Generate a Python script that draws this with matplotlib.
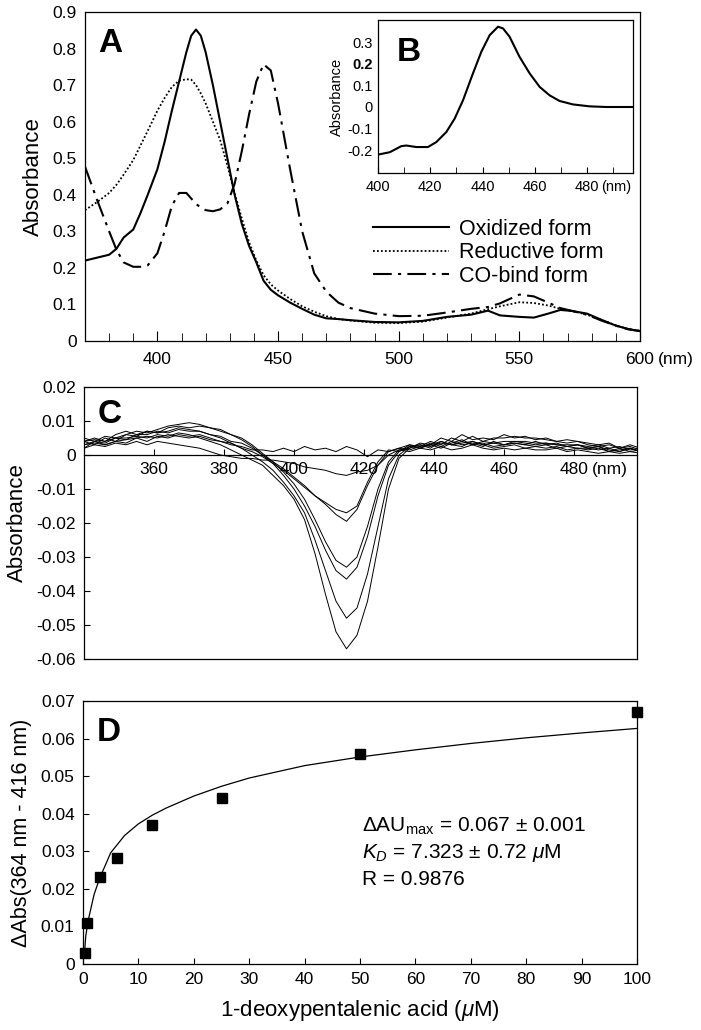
import matplotlib
matplotlib.use('Agg')

import matplotlib.pyplot as plt
import numpy as np

plt.rcParams['font.family'] = ['Liberation Sans', 'DejaVu Sans']
plt.rcParams['mathtext.fontset'] = 'custom'
plt.rcParams['mathtext.rm'] = 'Liberation Sans'
plt.rcParams['mathtext.it'] = 'Liberation Sans:italic'

# ---- panel A : spectra ----
wl_a = [370, 375, 380, 383, 386, 390, 393, 396, 400, 403, 406, 409, 412, 414, 416, 418, 420,
        423, 426, 429, 432, 435, 438, 441, 444, 447, 450, 455, 460, 465, 470, 475, 480, 490,
        500, 510, 520, 530, 537, 542, 550, 556, 562, 567, 572, 578, 584, 590, 595, 600]
oxidized = [0.220, 0.228, 0.236, 0.252, 0.283, 0.305, 0.35, 0.40, 0.47, 0.545, 0.63, 0.71, 0.79,
            0.835, 0.852, 0.835, 0.79, 0.70, 0.60, 0.50, 0.40, 0.32, 0.26, 0.215, 0.165, 0.14,
            0.125, 0.105, 0.088, 0.072, 0.062, 0.060, 0.057, 0.052, 0.051, 0.055, 0.066, 0.072,
            0.083, 0.070, 0.066, 0.064, 0.075, 0.085, 0.082, 0.075, 0.058, 0.042, 0.033, 0.027]
reductive = [0.358, 0.38, 0.405, 0.427, 0.455, 0.495, 0.535, 0.575, 0.63, 0.665, 0.695, 0.712,
             0.716, 0.715, 0.70, 0.677, 0.65, 0.60, 0.55, 0.48, 0.405, 0.335, 0.27, 0.22, 0.18,
             0.155, 0.138, 0.115, 0.095, 0.08, 0.068, 0.06, 0.056, 0.050, 0.049, 0.053, 0.064,
             0.075, 0.087, 0.095, 0.106, 0.104, 0.097, 0.088, 0.082, 0.072, 0.058, 0.043, 0.033, 0.028]
co_bind = [0.477, 0.386, 0.30, 0.25, 0.215, 0.203, 0.203, 0.207, 0.24, 0.30, 0.37, 0.405, 0.405,
           0.39, 0.375, 0.365, 0.358, 0.355, 0.36, 0.376, 0.43, 0.52, 0.62, 0.71, 0.757, 0.74,
           0.65, 0.47, 0.30, 0.185, 0.135, 0.105, 0.09, 0.075, 0.068, 0.069, 0.078, 0.088, 0.093,
           0.103, 0.127, 0.122, 0.105, 0.09, 0.082, 0.072, 0.056, 0.042, 0.032, 0.027]

# ---- panel B : difference spectrum ----
wl_b = [400, 404.5, 408.9, 410.8, 414.6, 419.1, 422.3, 426.1, 429.3, 432.5, 436.3, 439.5, 442.7,
        445.9, 447.8, 450.3, 454.1, 458, 461.8, 465.6, 469.4, 474.5, 480.9, 487.3, 497.5]
diff_b = [-0.22, -0.209, -0.181, -0.178, -0.185, -0.185, -0.162, -0.116, -0.054, 0.031, 0.155,
          0.255, 0.332, 0.371, 0.363, 0.325, 0.232, 0.155, 0.093, 0.054, 0.028, 0.012, 0.003, 0.0, 0.0]

# ---- panel C : titration difference spectra (values in mAU) ----
wl_c = list(range(340, 500, 3))
titr_mau = [
    [3, 4, 3.5, 5, 5, 5.5, 5, 6, 5.5, 6.5, 6, 5, 4, 3, 1.5, 0, -1.5, -3, -6, -9, -13, -19, -29,
     -41, -52, -57, -53, -43, -27, -10, -1, 2, 3, 2.5, 3.5, 3, 4, 3, 3.5, 2.5, 3, 3.5, 3, 2.5, 3,
     2, 2.5, 2, 2, 1.5, 2, 1, 2, 1],
    [4, 3, 5, 4, 4.5, 6, 6, 7, 6.5, 7.5, 7, 7, 6, 5, 3.5, 2, 0, -2, -4.5, -8, -12, -17, -25, -34,
     -43, -48, -45, -35, -21, -7, 0, 2.5, 2, 3, 4, 3, 3.5, 4, 3, 3.5, 4, 4, 4, 3.5, 3.5, 3, 3, 3,
     2.5, 3, 2, 2.5, 1.5, 2],
    [2, 4, 3, 4, 6, 5.5, 7, 6.5, 8, 8.5, 8, 8.5, 8, 7, 6, 4.5, 2.5, 0, -2.5, -6, -10, -15, -21,
     -28, -34, -36.5, -33, -24, -12, -3, 1, 3, 2.5, 4, 3, 5, 4, 5.5, 4, 5, 5, 5.5, 5, 5, 4.5, 4,
     4.5, 4, 3.5, 3, 3.5, 2, 3, 2],
    [5, 4, 5.5, 5, 6, 7, 6.5, 7.5, 8.5, 9, 9.5, 9, 8, 7.5, 6, 5, 3, 0.5, -2, -5, -8.5, -13, -19,
     -25.5, -31, -33, -30, -21, -10, -2, 1.5, 2, 3.5, 3, 5, 4, 6, 4.5, 5, 4.5, 6, 5, 5.5, 4.5, 5,
     4, 3.5, 4, 3, 2.5, 3, 2, 2.5, 1.5],
    [4, 5, 4, 6, 7, 6, 7, 6.5, 7, 8, 7.5, 7, 6, 5.5, 4, 3.5, 2, 0, -2, -4, -6.5, -9, -12, -14.5,
     -17.5, -19.5, -16, -9, -3, 1, 2, 3, 2, 3.5, 2.5, 4, 3, 3.5, 2.5, 4, 3, 3.5, 3, 4, 3, 3.5,
     2.5, 3, 2, 2.5, 1, 2, 1, 1.5],
    [3, 3.5, 3, 4, 3.5, 5, 4, 5.5, 5, 6, 5.5, 6, 5, 4, 3.5, 2, 1, -0.5, -2.5, -4.5, -7, -9.5, -12,
     -14, -16, -17, -15, -8, -2, 1.5, 1, 2.5, 3, 2, 4, 3, 2.5, 4, 3, 2, 2.5, 3, 2, 2.5, 2, 2.5,
     1.5, 2, 1.5, 2, 1, 1.5, 2, 1],
    [2, 3, 2.5, 3.5, 3, 4, 3, 4, 3.5, 3, 2.5, 2, 1, 0, -0.5, -1, -1, -1.5, -1.5, -2, -2.5, -3.5,
     -4, -4.5, -5.5, -6, -5, -4.5, -3, 0, 1.5, 1, 2, 1.5, 2.5, 1.5, 2, 3, 2, 1.5, 2, 1.5, 2, 1.5,
     1.5, 2, 1, 1.5, 1, 0.5, 1, 0.5, 1, 0.5],
    [4, 4.5, 4, 5, 4.5, 5, 5.5, 5, 6, 5.5, 5, 5.5, 4.5, 4, 3, 2.5, 1.5, 1.5, 1, 2, 1, 2.5, 1.5, 2,
     1, 2.5, 1.5, -0.5, 1.5, 1, 2, 1.5, 2.5, 3, 2, 3.5, 4.5, 3, 4, 3.5, 3, 4, 3.5, 3, 3.5, 3, 2.5,
     3, 2, 2.5, 1.5, 1, 2, 1],
]

# ---- panel D : binding curve ----
conc = [0.4, 0.8, 3.1, 6.2, 12.5, 25, 50, 100]
delta_abs = [0.0028, 0.0108, 0.0231, 0.0281, 0.0370, 0.0441, 0.0560, 0.0671]
fit_x = [0.2, 0.5, 1, 2, 3, 5, 7.5, 10, 12.5, 15, 20, 25, 30, 40, 50, 60, 70, 80, 90, 100]
fit_y = [0.0015, 0.0075, 0.0120, 0.0185, 0.0228, 0.0296, 0.0342, 0.0373, 0.0396, 0.0415,
         0.0447, 0.0473, 0.0495, 0.0528, 0.0551, 0.0570, 0.0587, 0.0602, 0.0615, 0.0627]

W, H = 701, 1030
fig = plt.figure(figsize=(W / 100, H / 100), dpi=100)

def box(l, t, r, b):
    return [l / W, 1 - b / H, (r - l) / W, (b - t) / H]

tick_fs = 12.5
lab_fs = 16

# ---- A ----
axA = fig.add_axes(box(85, 12, 640, 341))
axA.plot(wl_a, oxidized, color='k', lw=1.5, label='Oxidized form')
axA.plot(wl_a, reductive, color='k', lw=1.3, linestyle=(0, (1, 1.2)), label='Reductive form')
axA.plot(wl_a, co_bind, color='k', lw=1.5, linestyle=(0, (9, 3, 1.5, 3)), label='CO-bind form')
axA.set_xlim(370, 600)
axA.set_ylim(0, 0.9)
axA.set_xticks([400, 450, 500, 550, 600])
axA.set_xticks(np.arange(380, 600, 10), minor=True)
axA.set_yticks(np.arange(0, 0.91, 0.1))
axA.set_yticklabels(['0'] + ['%.1f' % v for v in np.arange(0.1, 0.91, 0.1)])
axA.tick_params(axis='x', direction='in', length=7, labelsize=tick_fs, pad=8)
axA.tick_params(axis='x', which='minor', direction='in', length=6)
axA.tick_params(axis='y', length=0, labelsize=tick_fs, pad=6)
axA.annotate('(nm)', xy=(600, 0), xytext=(13, -8), textcoords='offset points',
             ha='left', va='top', fontsize=tick_fs, annotation_clip=False)
axA.set_ylabel('Absorbance', fontsize=lab_fs, labelpad=6)
axA.text(0.023, 0.905, 'A', transform=axA.transAxes, fontsize=24, fontweight='bold',
         ha='left', va='center')
axA.legend(loc='upper left', bbox_to_anchor=(0.5, 0.405), frameon=False, fontsize=15.5,
           handlelength=3.5, handletextpad=0.5, labelspacing=0.12, borderpad=0)

# ---- B (inset) ----
axB = fig.add_axes(box(378, 20, 633, 173))
axB.plot(wl_b, diff_b, color='k', lw=1.5)
axB.set_xlim(400, 497.5)
axB.set_ylim(-0.305, 0.402)
axB.set_xticks([400, 420, 440, 460, 480])
axB.set_xticks(np.arange(410, 497, 10), minor=True)
axB.set_yticks([-0.2, -0.1, 0, 0.1, 0.2, 0.3])
axB.set_yticklabels(['-0.2', '-0.1', '0', '0.1', '0.2', '0.3'])
axB.get_yticklabels()[4].set_fontweight('bold')
axB.tick_params(axis='x', which='both', direction='in', length=4, labelsize=10.5, pad=5)
axB.tick_params(axis='y', length=0, labelsize=10.5, pad=4)
axB.annotate('(nm)', xy=(480, -0.305), xytext=(10, -5), textcoords='offset points',
             ha='left', va='top', fontsize=10.5, annotation_clip=False)
axB.set_ylabel('Absorbance', fontsize=10.5)
axB.yaxis.set_label_coords(-0.135, 0.5)
axB.text(0.075, 0.79, 'B', transform=axB.transAxes, fontsize=24, fontweight='bold',
         ha='left', va='center')

# ---- C ----
axC = fig.add_axes(box(84, 387, 637, 659))
for row in titr_mau:
    axC.plot(wl_c, np.array(row) / 1000.0, color='k', lw=0.7)
axC.set_xlim(340, 498)
axC.set_ylim(-0.06, 0.02)
axC.set_yticks(np.arange(-0.06, 0.021, 0.01))
axC.set_yticklabels(['-0.06', '-0.05', '-0.04', '-0.03', '-0.02', '-0.01', '0', '0.01', '0.02'])
axC.tick_params(axis='y', direction='in', length=4, labelsize=tick_fs, pad=6)
axC.set_xticks([])
axC.set_ylabel('Absorbance', fontsize=lab_fs, labelpad=6)
axC.text(0.025, 0.9, 'C', transform=axC.transAxes, fontsize=24, fontweight='bold',
         ha='left', va='center')

# zero line of C carries the wavelength ticks
axZ = fig.add_axes(box(84, 387, 637, 455))
axZ.patch.set_visible(False)
for side in ('top', 'left', 'right'):
    axZ.spines[side].set_visible(False)
axZ.spines['bottom'].set_linewidth(0.9)
axZ.set_xlim(340, 498)
axZ.set_yticks([])
axZ.set_xticks([360, 380, 400, 420, 440, 460, 480])
axZ.tick_params(axis='x', direction='in', length=4, labelsize=tick_fs, pad=5)
axZ.annotate('(nm)', xy=(480, 0), xycoords=('data', 'axes fraction'), xytext=(13, -5),
             textcoords='offset points', ha='left', va='top', fontsize=tick_fs,
             annotation_clip=False)

# ---- D ----
axD = fig.add_axes(box(83, 701, 637, 964))
axD.plot(fit_x, fit_y, color='k', lw=0.9)
axD.plot(conc, delta_abs, 's', color='k', ms=6.5, clip_on=False)
axD.set_xlim(0, 100)
axD.set_ylim(0, 0.07)
axD.set_xticks(np.arange(0, 101, 10))
axD.set_yticks(np.arange(0, 0.071, 0.01))
axD.set_yticklabels(['0'] + ['%.2f' % v for v in np.arange(0.01, 0.071, 0.01)])
axD.tick_params(direction='in', length=4, labelsize=tick_fs, pad=6)
axD.set_ylabel('ΔAbs(364 nm - 416 nm)', fontsize=lab_fs - 0.5, labelpad=6)
axD.set_xlabel(r'1-deoxypentalenic acid ($\mathit{μ}$M)', fontsize=lab_fs, labelpad=8)
axD.text(0.025, 0.88, 'D', transform=axD.transAxes, fontsize=24, fontweight='bold',
         ha='left', va='center')
axD.text(50.4, 0.0367, r'ΔAU$_{\mathrm{max}}$ = 0.067 ± 0.001', fontsize=15, va='center')
axD.text(50.4, 0.0296, r'$K_D$ = 7.323 ± 0.72 $\mathit{μ}$M', fontsize=15, va='center')
axD.text(50.4, 0.0226, 'R = 0.9876', fontsize=15, va='center')

for ax in (axA, axB, axC, axD):
    for s in ax.spines.values():
        s.set_linewidth(0.9)

fig.savefig('out.png', dpi=100)
